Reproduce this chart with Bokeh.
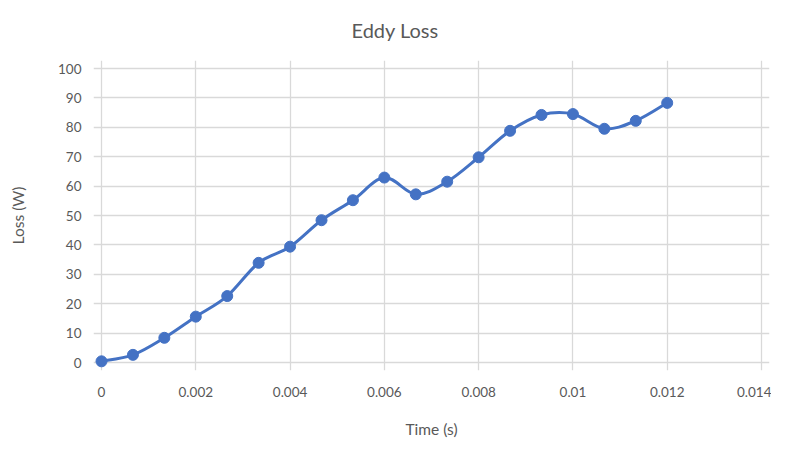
from bokeh.plotting import figure
from bokeh.models import FixedTicker, Range1d
from bokeh.embed import file_html
from bokeh.resources import INLINE
import numpy as np

time_s = [0, 0.000667, 0.001333, 0.002, 0.002667, 0.003333, 0.004, 0.004667,
          0.005333, 0.006, 0.006667, 0.007333, 0.008, 0.008667, 0.009333,
          0.01, 0.010667, 0.011333, 0.012]
loss_w = [0.4, 2.6, 8.4, 15.6, 22.6, 33.9, 39.4, 48.4, 55.2, 62.9, 57.2, 61.5,
          69.8, 78.8, 84.2, 84.5, 79.5, 82.2, 88.3]
x_ticks = [0, 0.002, 0.004, 0.006, 0.008, 0.01, 0.012, 0.014]
x_tick_labels = ["0", "0.002", "0.004", "0.006", "0.008", "0.01", "0.012", "0.014"]
y_ticks = [0, 10, 20, 30, 40, 50, 60, 70, 80, 90, 100]
title_text = "Eddy Loss"

FONT = "Lato"
GRAY = "#595959"
BLUE = "#4472C4"

xpad = 8 / 660 * 0.014
ypad = 8 / 294 * 100

p = figure(width=771, height=440, output_backend="svg", toolbar_location=None,
           title=title_text,
           x_range=Range1d(-xpad, 0.014 + xpad), y_range=Range1d(-ypad, 100 + ypad),
           min_border_left=93, min_border_right=2, min_border_top=60,
           min_border_bottom=70)
p.outline_line_color = None

p.title.align = "left"
p.title.offset = 258
p.title.vertical_align = "top"
p.title.text_font = FONT
p.title.text_font_size = "20px"
p.title.text_font_style = "normal"
p.title.text_color = GRAY
p.title.standoff = 33

for ax in (p.xaxis[0], p.yaxis[0]):
    ax.axis_line_color = None
    ax.major_tick_line_color = None
    ax.minor_tick_line_color = None
    ax.major_tick_out = 0
    ax.major_tick_in = 0
    ax.minor_tick_out = 0
    ax.minor_tick_in = 0
    ax.major_label_text_font = FONT
    ax.major_label_text_font_size = "13.5px"
    ax.major_label_text_color = GRAY
    ax.axis_label_text_font = FONT
    ax.axis_label_text_font_size = "15.5px"
    ax.axis_label_text_font_style = "normal"
    ax.axis_label_text_color = GRAY

p.xaxis.ticker = FixedTicker(ticks=x_ticks)
p.xaxis.major_label_overrides = {t_: l for t_, l in zip(x_ticks, x_tick_labels)}
p.xaxis.major_label_standoff = 16
p.xaxis.axis_label = "Time (s)"
p.xaxis.axis_label_standoff = 20

p.yaxis.ticker = FixedTicker(ticks=y_ticks)
p.yaxis.major_label_standoff = 12
p.yaxis.axis_label = "Loss (W)"
p.yaxis.axis_label_standoff = 28

p.xgrid.ticker = FixedTicker(ticks=x_ticks)
p.ygrid.ticker = FixedTicker(ticks=y_ticks)
for g in (p.xgrid[0], p.ygrid[0]):
    g.grid_line_color = "#d9d9d9"
    g.grid_line_width = 1.3

# smoothed line via Catmull-Rom style bezier segments from the data
x = np.array(time_s)
y = np.array(loss_w)
n = len(x)
x0, y0, x1, y1, cx0, cy0, cx1, cy1 = [], [], [], [], [], [], [], []
k = 1 / 6
for i in range(n - 1):
    ip = max(i - 1, 0)
    inx = min(i + 2, n - 1)
    x0.append(x[i]); y0.append(y[i]); x1.append(x[i + 1]); y1.append(y[i + 1])
    cx0.append(x[i] + (x[i + 1] - x[ip]) * k)
    cy0.append(y[i] + (y[i + 1] - y[ip]) * k)
    cx1.append(x[i + 1] - (x[inx] - x[i]) * k)
    cy1.append(y[i + 1] - (y[inx] - y[i]) * k)
p.bezier(x0=x0, y0=y0, x1=x1, y1=y1, cx0=cx0, cy0=cy0, cx1=cx1, cy1=cy1,
         line_color=BLUE, line_width=3)
p.scatter(time_s, loss_w, size=11, fill_color=BLUE, line_color=BLUE)

open("out.html", "w").write(file_html(p, INLINE))
